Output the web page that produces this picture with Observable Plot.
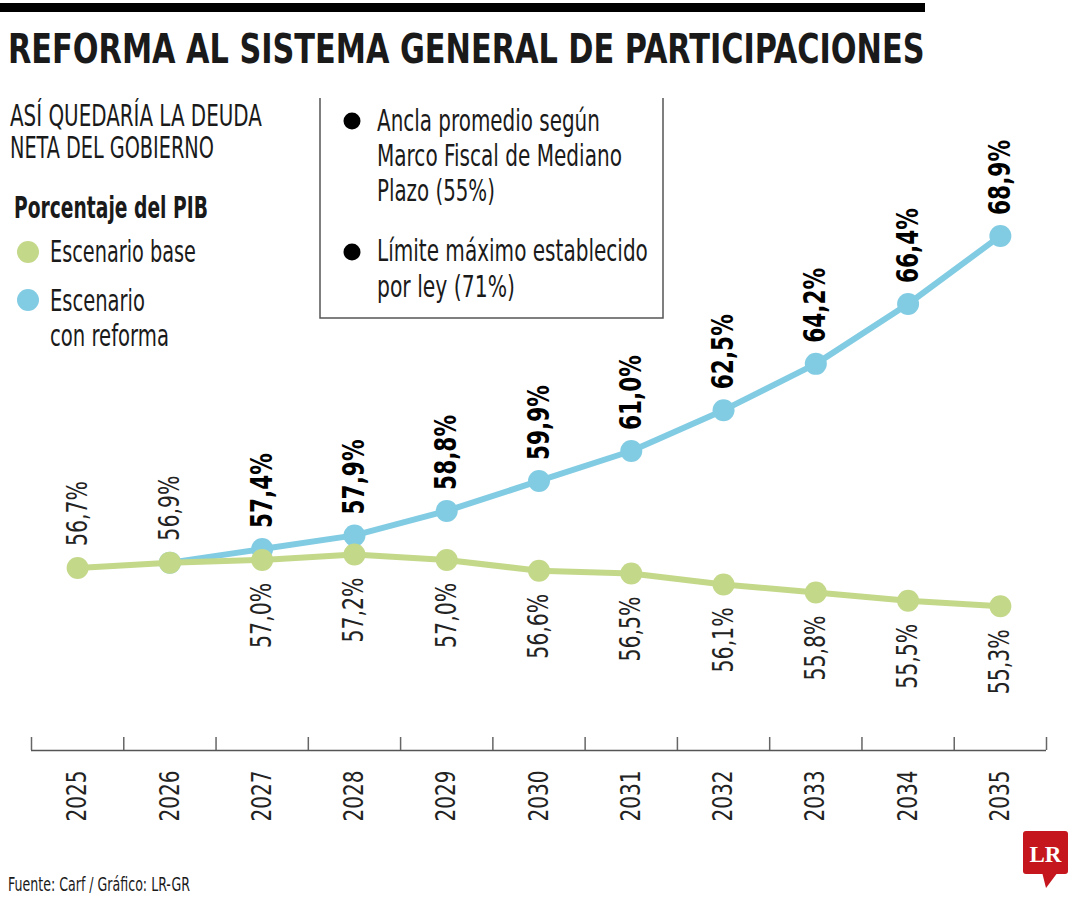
<!DOCTYPE html>
<html>
<head>
<meta charset="utf-8">
<script src="https://cdn.jsdelivr.net/npm/d3@7"></script>
<script src="https://cdn.jsdelivr.net/npm/@observablehq/plot@0.6"></script>
<style>
  html, body { margin: 0; padding: 0; background: #fff; }
  #page { position: relative; width: 1080px; height: 900px; overflow: hidden; background: #fff; }
  #chart { position: absolute; left: 0; top: 100px; }
  #deco { position: absolute; left: 0; top: 0; pointer-events: none; }
</style>
</head>
<body>
<div id="page">
  <div id="chart"></div>
  <svg id="deco" width="1080" height="900"></svg>
</div>
<script>
// ---------- data ----------
const years = [2025, 2026, 2027, 2028, 2029, 2030, 2031, 2032, 2033, 2034, 2035];
const baseValues = [56.7, 56.9, 57.0, 57.2, 57.0, 56.6, 56.5, 56.1, 55.8, 55.5, 55.3];
const reformValues = [null, 56.9, 57.4, 57.9, 58.8, 59.9, 61.0, 62.5, 64.2, 66.4, 68.9];
const seriesNames = ["Escenario base", "Escenario con reforma"];
const seriesColors = ["#c4d88a", "#82cce3"];

const FONT = "'Liberation Sans Narrow', 'DejaVu Sans Condensed', 'Roboto Condensed', sans-serif";

const base = years.map((year, i) => ({year, value: baseValues[i], serie: seriesNames[0]}));
const reform = years.map((year, i) => ({year, value: reformValues[i], serie: seriesNames[1]}))
  .filter(d => d.value != null);
const edges = years.map(y => y - 0.5).concat([years[years.length - 1] + 0.5]);
const fmt = d => d.value.toFixed(1).replace(".", ",") + "%";

const chart = Plot.plot({
  width: 1080,
  height: 730,
  marginLeft: 31,
  marginRight: 34,
  marginTop: 51,
  marginBottom: 80,
  style: {fontFamily: FONT, background: "transparent", overflow: "visible", color: "#222"},
  x: {type: "linear", domain: [edges[0], edges[edges.length - 1]], axis: null},
  y: {domain: [50, 72], axis: null},
  marks: [
    Plot.ruleY([50], {stroke: "#555", strokeWidth: 1.5}),
    Plot.axisX(edges, {tickSize: -13, tickFormat: () => "", label: null, stroke: "#666", strokeWidth: 1.5}),
    Plot.axisX(years, {tickSize: 0, tickPadding: 20, tickRotate: -90, fontSize: 27, label: null, tickFormat: d => String(d), fill: "#222"}),
    Plot.line(reform, {x: "year", y: "value", stroke: seriesColors[1], strokeWidth: 6}),
    Plot.dot(reform, {x: "year", y: "value", r: 11, fill: seriesColors[1]}),
    Plot.line(base, {x: "year", y: "value", stroke: seriesColors[0], strokeWidth: 6}),
    Plot.dot(base, {x: "year", y: "value", r: 11, fill: seriesColors[0]}),
    Plot.text(base.filter(d => d.year <= 2026), {x: "year", y: "value", text: fmt, rotate: -90, textAnchor: "start", lineAnchor: "middle", dy: -22, fontSize: 28, fill: "#222"}),
    Plot.text(reform.filter(d => d.year >= 2027), {x: "year", y: "value", text: fmt, rotate: -90, textAnchor: "start", lineAnchor: "middle", dy: -21, fontSize: 30, fontWeight: "bold", fill: "#000"}),
    Plot.text(base.filter(d => d.year >= 2027), {x: "year", y: "value", text: fmt, rotate: -90, textAnchor: "end", lineAnchor: "middle", dy: 23, fontSize: 28, fill: "#222"})
  ]
});
document.getElementById("chart").appendChild(chart);

// condense rotated labels along their reading direction to match the narrow original type
function condense(texts, target) {
  const list = Array.from(texts).filter(t => t.textContent.length > 0);
  if (!list.length) return;
  const f = target / list[0].getComputedTextLength();
  list.forEach(t => {
    const tr = t.getAttribute("transform");
    if (tr) t.setAttribute("transform", tr + ` scale(${f},1)`);
  });
}
const textGroups = chart.querySelectorAll('g[aria-label="text"]');
condense(textGroups[0].querySelectorAll("text"), 65);
condense(textGroups[1].querySelectorAll("text"), 75);
condense(textGroups[2].querySelectorAll("text"), 65);
chart.querySelectorAll('g[aria-label="x-axis tick label"]').forEach(g => condense(g.querySelectorAll("text"), 51));

// ---------- title, legend, notes, source ----------
const deco = d3.select("#deco").style("font-family", FONT);
deco.append("rect").attr("x", 0).attr("y", 3).attr("width", 925).attr("height", 9).attr("fill", "#000");

function txt(s, x, y, size, len, weight) {
  const t = deco.append("text").attr("x", 0).attr("y", 0)
    .attr("font-size", size).attr("font-weight", weight || "normal")
    .attr("fill", "#1a1a1a")
    .text(s);
  const L = t.node().getComputedTextLength();
  t.attr("transform", `translate(${x},${y}) scale(${len / L},1)`);
}
txt("REFORMA AL SISTEMA GENERAL DE PARTICIPACIONES", 8, 63, 41, 917, "bold");
txt("ASÍ QUEDARÍA LA DEUDA", 10, 126, 30, 252);
txt("NETA DEL GOBIERNO", 10, 158, 30, 204);
txt("Porcentaje del PIB", 14, 218, 30, 194, "bold");
deco.append("circle").attr("cx", 28).attr("cy", 252).attr("r", 11).attr("fill", seriesColors[0]);
txt("Escenario base", 50, 262, 31, 146);
deco.append("circle").attr("cx", 28).attr("cy", 300).attr("r", 11).attr("fill", seriesColors[1]);
txt("Escenario", 50, 311, 31, 95);
txt("con reforma", 50, 346, 31, 119);

deco.append("path").attr("d", "M320,98V318H663V98").attr("fill", "none").attr("stroke", "#555").attr("stroke-width", 1.5);
deco.append("circle").attr("cx", 352).attr("cy", 121).attr("r", 8.5).attr("fill", "#000");
txt("Ancla promedio según", 377, 131, 31, 223);
txt("Marco Fiscal de Mediano", 377, 166, 31, 245);
txt("Plazo (55%)", 377, 201, 31, 118);
deco.append("circle").attr("cx", 352).attr("cy", 252).attr("r", 8.5).attr("fill", "#000");
txt("Límite máximo establecido", 377, 261, 31, 271);
txt("por ley (71%)", 377, 297, 31, 138);

txt("Fuente: Carf / Gráfico: LR-GR", 8, 891, 20, 182);

// logo
deco.append("rect").attr("x", 1023).attr("y", 831).attr("width", 45).attr("height", 43).attr("rx", 3).attr("fill", "#c4161c");
deco.append("path").attr("d", "M1042,872L1058,872L1046,888Z").attr("fill", "#c4161c");
deco.append("text").attr("x", 1045.5).attr("y", 862).attr("text-anchor", "middle")
  .attr("font-family", "'Liberation Serif', 'DejaVu Serif', serif").attr("font-weight", "bold")
  .attr("font-size", 23).attr("fill", "#fff").text("LR");
</script>
</body>
</html>
